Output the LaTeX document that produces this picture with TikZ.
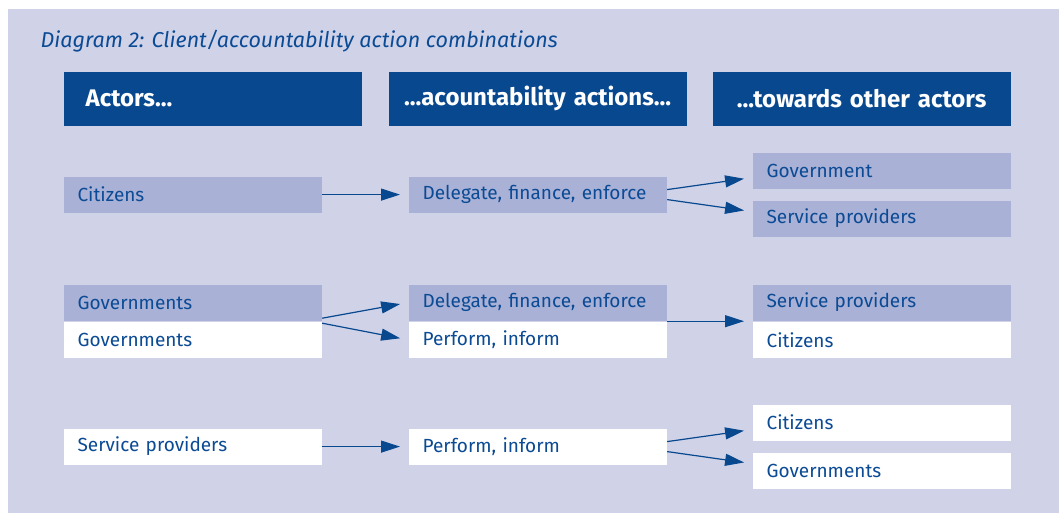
\documentclass[tikz,border=0pt]{standalone}
\usepackage{fontspec}
\setmainfont{Fira Sans}
\usetikzlibrary{positioning,arrows.meta}
\definecolor{bgblue}{HTML}{D0D3E8}
\definecolor{darkblue}{HTML}{08488F}
\definecolor{midblue}{HTML}{A9B1D6}
\definecolor{textblue}{HTML}{0B4A94}

\begin{document}
\begin{tikzpicture}[x=1pt,y=-1pt,>={Triangle[length=19pt,width=12pt]},
    line width=1.2pt, text=textblue,
    font=\fontsize{19}{22}\selectfont,
    head/.style={fill=darkblue, text=white, font=\fontsize{24}{28}\selectfont\bfseries,
        anchor=north west, minimum height=54pt, text width=286pt, inner xsep=6pt, align=center},
    dark/.style={fill=midblue, anchor=north west, minimum height=36pt, text width=230pt,
        inner xsep=14pt, align=left},
    light/.style={dark, fill=white},
    link/.style={every edge/.style={draw=darkblue, ->, shorten >=8pt}}]

    \useasboundingbox (0,0) rectangle (1059,513);
    \fill[bgblue] (8,9) rectangle (1059,513);

    \node[anchor=base west, font=\fontsize{21.5}{25}\selectfont\itshape, inner sep=0pt] (title) at (40,48)
    {Diagram 2: Client/accountability action combinations};

    %------------------------------------------------

    \node[head, align=left, text width=254pt, inner xsep=22pt] (hActors) at (63,71) {Actors...};
    \node[head] (hActions) at (388,71) {...acountability actions...};
    \node[head] (hOthers) at (712,71) {...towards other actors};

    %------------------------------------------------

    \node[dark] (citA) at (63,176) {Citizens};
    \node[dark] (delA) at (408,176) {Delegate, finance, enforce};
    \node[dark] (govA) at (752,152) {Government};
    \node[dark] (spA) at (752,200) {Service providers};

    %------------------------------------------------

    \node[dark] (govB) at (63,284) {Governments};
    \node[light, below=0pt of govB] (govBb) {Governments};
    \node[dark] (delB) at (408,284) {Delegate, finance, enforce};
    \node[light, below=0pt of delB] (perB) {Perform, inform};
    \node[dark] (spB) at (752,284) {Service providers};
    \node[light, below=0pt of spB] (citB) {Citizens};

    %------------------------------------------------

    \node[light] (spC) at (63,428) {Service providers};
    \node[light] (perC) at (408,428) {Perform, inform};
    \node[light] (citC) at (752,404) {Citizens};
    \node[light] (govC) at (752,452) {Governments};

    \path[link]
    {
        (citA) edge (delA)
        ([yshift=5pt]delA.east) edge ([yshift=-7pt]govA.west)
        ([yshift=-5pt]delA.east) edge ([yshift=7pt]spA.west)

        ([yshift=3pt]govB.south east) edge (delB.west)
        ([yshift=-2pt]govB.south east) edge (perB.west)
        (delB.south east) edge (spB.south west)

        (spC) edge (perC)
        ([yshift=5pt]perC.east) edge ([yshift=-7pt]citC.west)
        ([yshift=-5pt]perC.east) edge ([yshift=7pt]govC.west)
    };
\end{tikzpicture}
\end{document}
